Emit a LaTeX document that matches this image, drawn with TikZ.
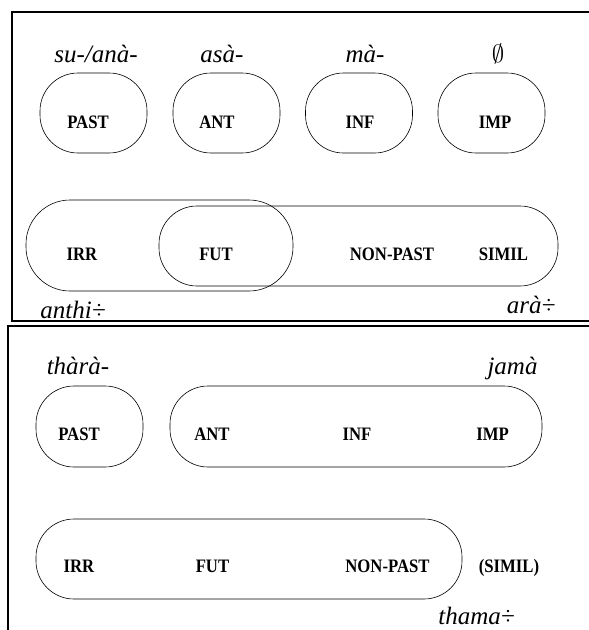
\documentclass[tikz,border=0pt]{standalone}
\usepackage{fontspec}
\setmainfont{Liberation Serif}
\newfontfamily\glossfont[FakeStretch=0.88]{Liberation Serif}
\usepackage{tikz}
\usetikzlibrary{positioning}
\tikzset{
  panelline/.style={
    line width=2.2pt,
    line cap=butt
  },
  catbox/.style={
    draw,
    line width=0.6pt,
    rounded corners=38pt,
    inner sep=0pt
  },
  gloss/.style={
    font=\glossfont\fontsize{19}{19}\selectfont\bfseries,
    anchor=base,
    inner sep=0pt
  },
  morph/.style={
    font=\fontsize{25}{25}\selectfont\itshape,
    anchor=base,
    inner sep=0pt
  }
}

\begin{document}
\begin{tikzpicture}[x=1pt,y=-1pt]
  \useasboundingbox (0,0) rectangle (589,630);

  % panel frames
  \coordinate (tr) at (589,12);
  \coordinate (tl) at (12,12);
  \coordinate (bl) at (12,321);
  \coordinate (br) at (589,321);
  \coordinate (ur) at (589,326);
  \coordinate (ul) at (8,326);
  \coordinate (ll) at (8,630);
  \draw[panelline] (tr) -- (tl) -- (bl) -- (br);
  \draw[panelline] (ur) -- (ul) -- (ll);

  % upper panel
  \node[catbox, minimum width=107pt, minimum height=80pt] (pastA) at (93.5,113) {};
  \node[catbox, minimum width=107pt, minimum height=80pt] (antA) at (226.5,113) {};
  \node[catbox, minimum width=107pt, minimum height=80pt] (infA) at (359,113) {};
  \node[catbox, minimum width=107pt, minimum height=80pt] (impA) at (491.5,113) {};
  \node[catbox, minimum width=267pt, minimum height=91pt, rounded corners=44pt] (irrfut) at (159.5,245.5) {};
  \node[catbox, minimum width=399pt, minimum height=80pt] (futsimil) at (358.5,246) {};

  \node[morph] (suana) at (96,62) {su-/anà-};
  \node[morph] (asa) at (222,62) {asà-};
  \node[morph] (ma) at (365,62) {mà-};
  \node[morph, font=\fontsize{25}{25}\selectfont] (zero) at (498,62) {$\emptyset$};

  \node[gloss] (pastAt) at (88,128) {PAST};
  \node[gloss] (antAt) at (217,128) {ANT};
  \node[gloss] (infAt) at (360,128) {INF};
  \node[gloss] (impAt) at (495,128) {IMP};
  \node[gloss] (irrAt) at (82,260) {IRR};
  \node[gloss] (futAt) at (216,260) {FUT};
  \node[gloss] (nonpastAt) at (392,260) {NON-PAST};
  \node[gloss] (similAt) at (503.5,260) {SIMIL};

  \node[morph] (anthi) at (73,318) {anthi÷};
  \node[morph] (ara) at (531,313) {arà÷};

  % lower panel
  \node[catbox, minimum width=107pt, minimum height=81pt] (pastB) at (89.5,426.5) {};
  \node[catbox, minimum width=372pt, minimum height=81pt] (antimp) at (356,426.5) {};
  \node[catbox, minimum width=426pt, minimum height=80pt] (irrnon) at (249,559) {};

  \node[morph] (thara) at (78,374) {thàrà-};
  \node[morph] (jama) at (512.5,374) {jamà};

  \node[gloss] (pastBt) at (79,440) {PAST};
  \node[gloss] (antBt) at (212,440) {ANT};
  \node[gloss] (infBt) at (357,440) {INF};
  \node[gloss] (impBt) at (492.5,440) {IMP};
  \node[gloss] (irrBt) at (79,572) {IRR};
  \node[gloss] (futBt) at (212.5,572) {FUT};
  \node[gloss] (nonpastBt) at (387.5,572) {NON-PAST};
  \node[gloss] (similBt) at (509,572) {(SIMIL)};

  \node[morph] (thama) at (476.5,624) {thama÷};
\end{tikzpicture}
\end{document}
